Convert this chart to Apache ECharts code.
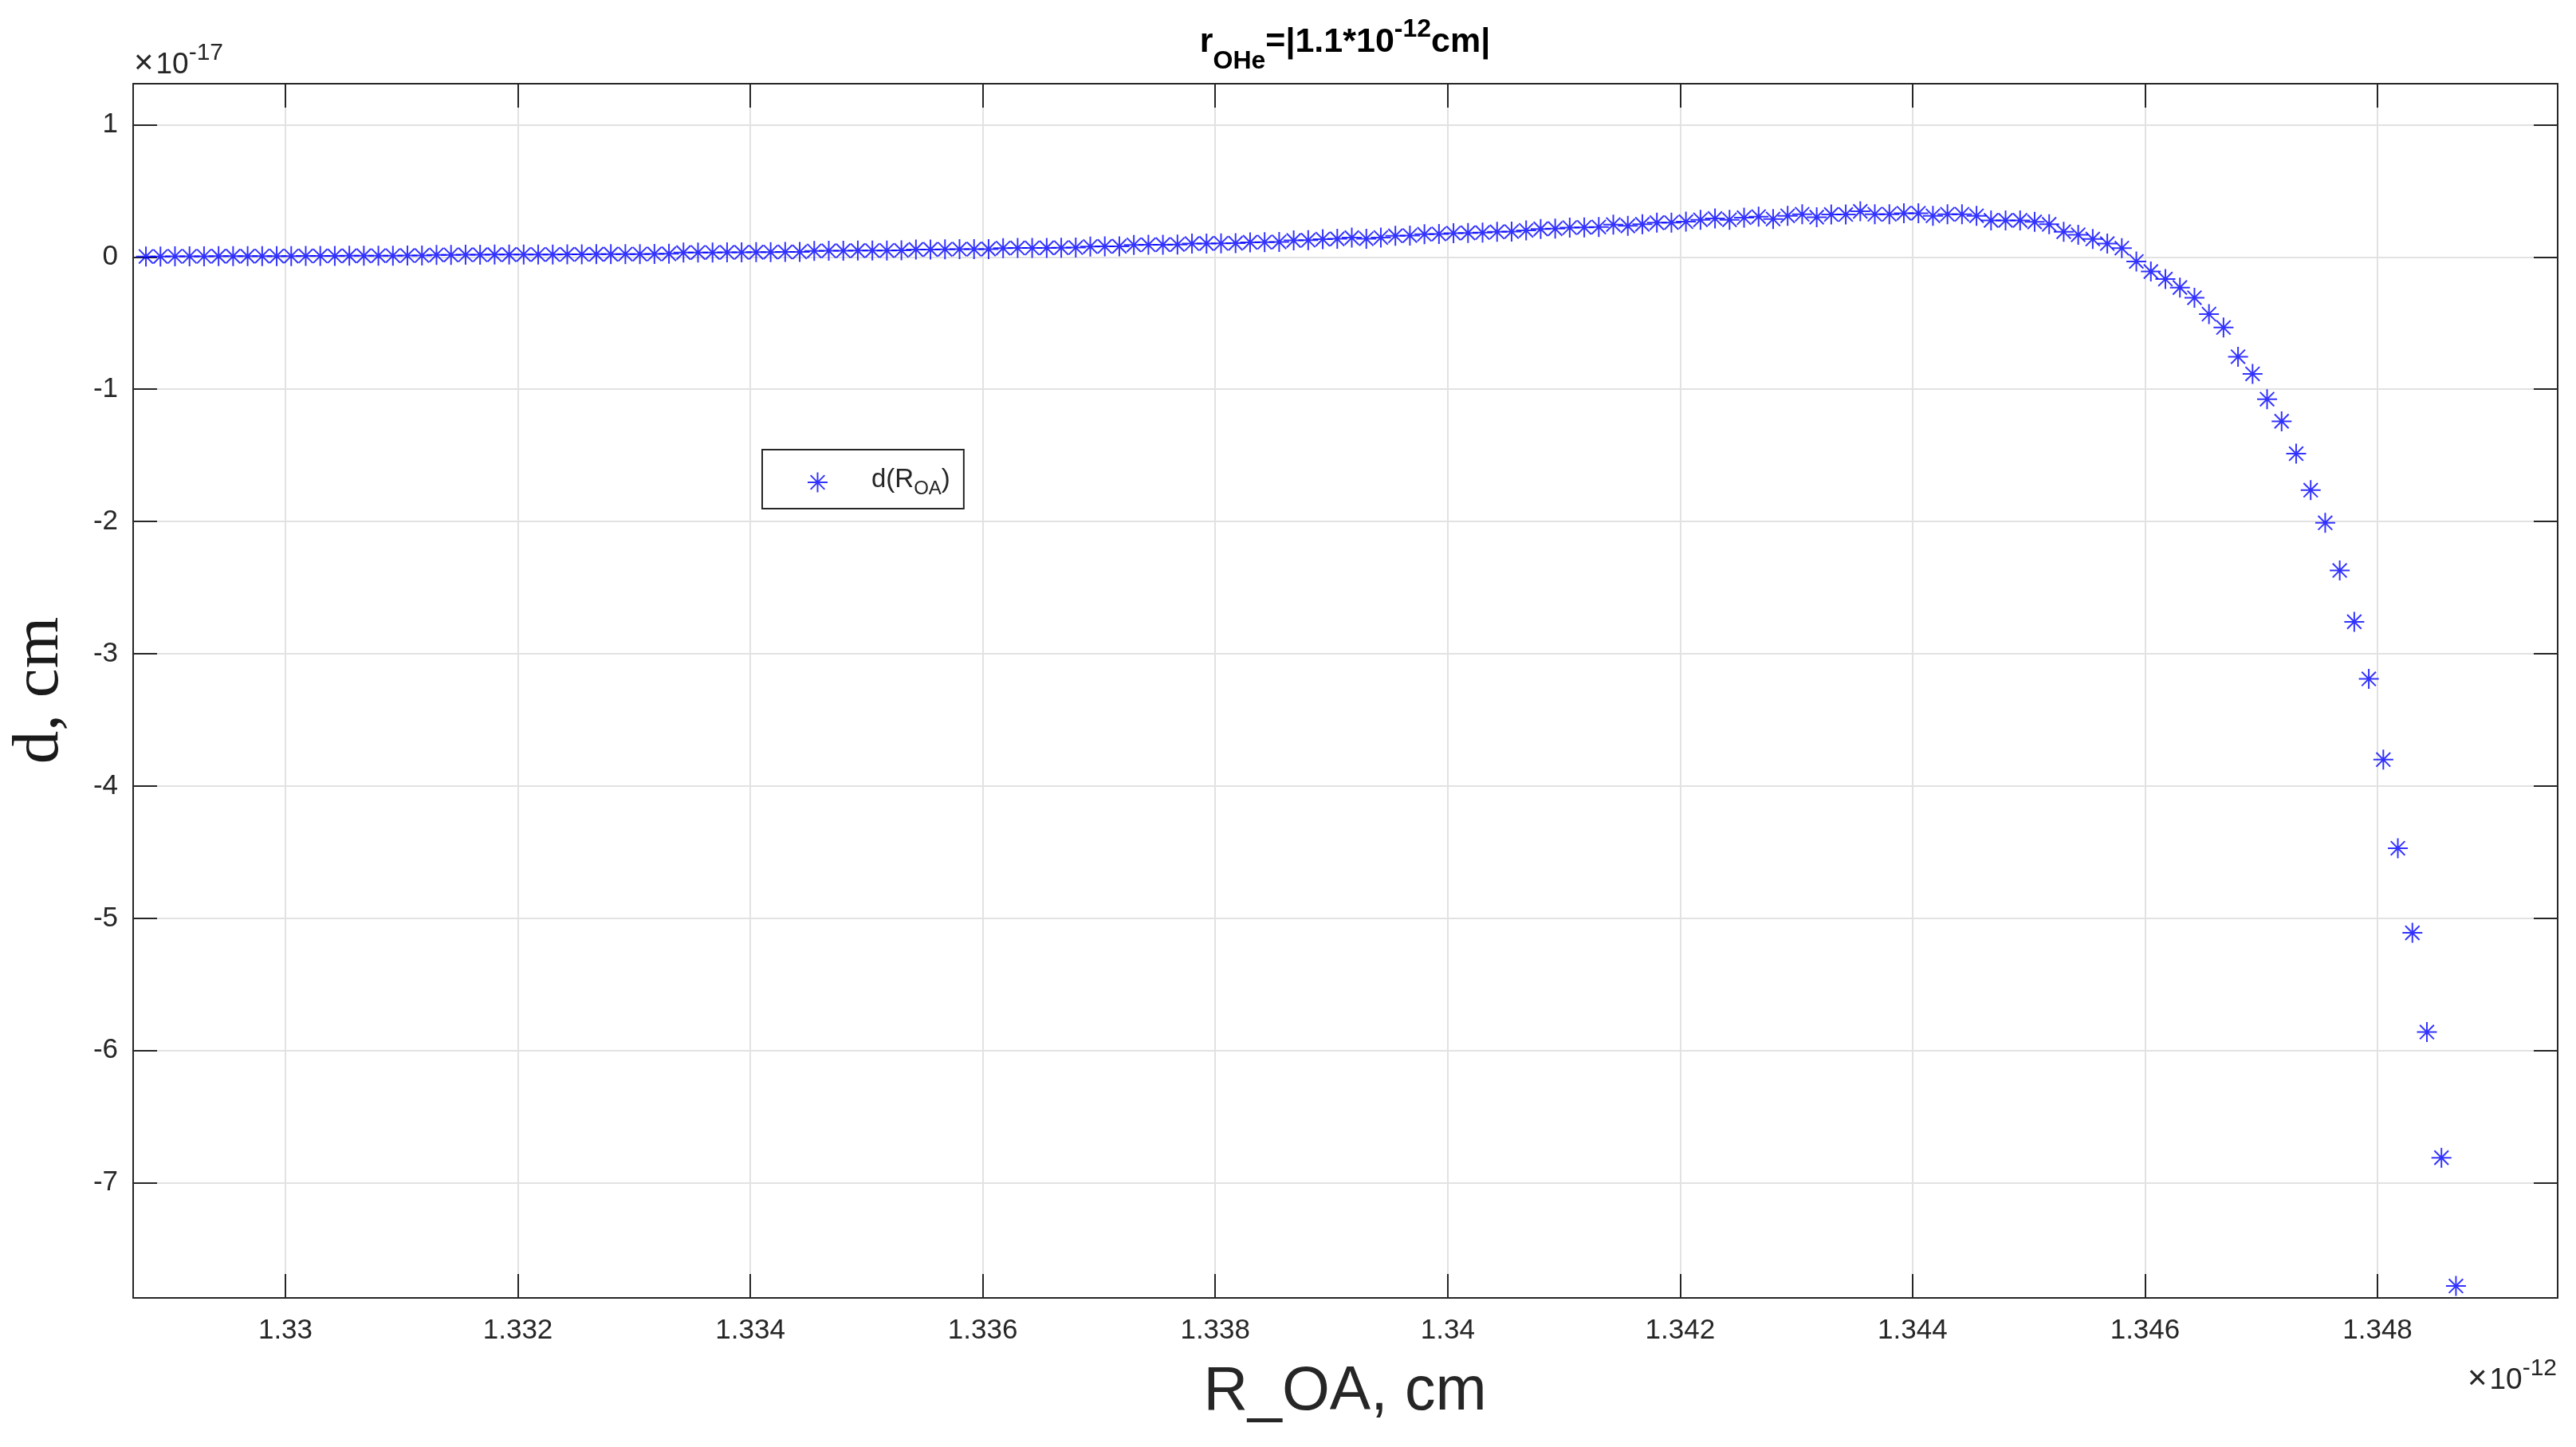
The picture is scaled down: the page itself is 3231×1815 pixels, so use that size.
<!DOCTYPE html>
<html>
<head>
<meta charset="utf-8">
<script src="https://cdn.jsdelivr.net/npm/echarts@6/dist/echarts.min.js"></script>
<style>
html,body{margin:0;padding:0;background:#ffffff;}
#chart{width:3231px;height:1815px;}
</style>
</head>
<body>
<div id="chart"></div>
<script>
// R_OA sample positions (units of 1e-12 cm)
const R_OA = [
  1.3288,1.328925,1.32905,1.329175,1.3293,1.329425,1.32955,1.329675,
  1.3298,1.329925,1.33005,1.330175,1.3303,1.330425,1.33055,1.330675,
  1.3308,1.330925,1.33105,1.331175,1.3313,1.331425,1.33155,1.331675,
  1.3318,1.331925,1.33205,1.332175,1.3323,1.332425,1.33255,1.332675,
  1.3328,1.332925,1.33305,1.333175,1.3333,1.333425,1.33355,1.333675,
  1.3338,1.333925,1.33405,1.334175,1.3343,1.334425,1.33455,1.334675,
  1.3348,1.334925,1.33505,1.335175,1.3353,1.335425,1.33555,1.335675,
  1.3358,1.335925,1.33605,1.336175,1.3363,1.336425,1.33655,1.336675,
  1.3368,1.336925,1.33705,1.337175,1.3373,1.337425,1.33755,1.337675,
  1.3378,1.337925,1.33805,1.338175,1.3383,1.338425,1.33855,1.338675,
  1.3388,1.338925,1.33905,1.339175,1.3393,1.339425,1.33955,1.339675,
  1.3398,1.339925,1.34005,1.340175,1.3403,1.340425,1.34055,1.340675,
  1.3408,1.340925,1.34105,1.341175,1.3413,1.341425,1.34155,1.341675,
  1.3418,1.341925,1.34205,1.342175,1.3423,1.342425,1.34255,1.342675,
  1.3428,1.342925,1.34305,1.343175,1.3433,1.343425,1.34355,1.343675,
  1.3438,1.343925,1.34405,1.344175,1.3443,1.344425,1.34455,1.344675,
  1.3448,1.344925,1.34505,1.345175,1.3453,1.345425,1.34555,1.345675,
  1.3458,1.345925,1.34605,1.346175,1.3463,1.346425,1.34655,1.346675,
  1.3468,1.346925,1.34705,1.347175,1.3473,1.347425,1.34755,1.347675,
  1.3478,1.347925,1.34805,1.348175,1.3483,1.348425,1.34855,1.348675
];
// d values (units of 1e-17 cm)
const D_VALUES = [
  0.004,0.004,0.005,0.005,0.005,0.006,0.006,0.006,0.007,0.007,
  0.007,0.008,0.008,0.008,0.009,0.009,0.010,0.010,0.011,0.011,
  0.016,0.016,0.017,0.017,0.018,0.018,0.019,0.019,0.019,0.020,
  0.020,0.021,0.021,0.022,0.022,0.023,0.024,0.033,0.034,0.034,
  0.035,0.035,0.036,0.037,0.038,0.038,0.046,0.047,0.047,0.048,
  0.049,0.049,0.050,0.057,0.057,0.058,0.059,0.059,0.060,0.067,
  0.068,0.068,0.069,0.070,0.071,0.079,0.080,0.081,0.091,0.092,
  0.093,0.094,0.101,0.102,0.103,0.104,0.111,0.112,0.114,0.125,
  0.127,0.135,0.137,0.146,0.138,0.147,0.160,0.162,0.172,0.174,
  0.180,0.182,0.184,0.190,0.192,0.201,0.212,0.214,0.222,0.224,
  0.227,0.245,0.235,0.247,0.259,0.260,0.267,0.281,0.291,0.281,
  0.297,0.305,0.287,0.311,0.323,0.301,0.321,0.321,0.345,0.323,
  0.323,0.331,0.331,0.311,0.323,0.323,0.311,0.277,0.277,0.277,
  0.265,0.247,0.191,0.168,0.136,0.101,0.067,-0.034,-0.110,-0.167,
  -0.231,-0.308,-0.432,-0.533,-0.754,-0.884,-1.075,-1.242,-1.487,-1.763,
  -2.010,-2.370,-2.758,-3.190,-3.800,-4.470,-5.110,-5.860,-6.810,-7.780
];
const SERIES_NAME = 'd(R_OA)';
const X_MIN = 1.32869, X_MAX = 1.34955;
const Y_MIN = -7.87, Y_MAX = 1.31;
const X_TICK_STEP = 0.002;
const Y_TICK_STEP = 1;

const AXIS_COLOR = '#262626';
const GRID_COLOR = '#e2e2e2';
const SANS = '"Liberation Sans", Arial, sans-serif';
const SERIF = '"Liberation Serif", "Times New Roman", serif';
const ASTERISK = 'path://M0,-10L0,10M-10,0L10,0M-7.07,-7.07L7.07,7.07M-7.07,7.07L7.07,-7.07';

function onStep(v, step) {
  const k = v / step;
  return Math.abs(k - Math.round(k)) < 1e-6;
}

const measureCtx = document.createElement('canvas').getContext('2d');
function textWidth(str, font) { measureCtx.font = font; return measureCtx.measureText(str).width; }
// place a line of text pieces on a common baseline (dy shifts for sub/superscripts)
function richLine(segs, x, baseline, align) {
  const fonts = segs.map(s => (s.weight || 'normal') + ' ' + s.size + 'px ' + (s.family || SANS));
  const widths = segs.map((s, i) => textWidth(s.text, fonts[i]) + (s.gap || 0));
  const total = widths.reduce((a, b) => a + b, 0);
  let cx = align === 'center' ? x - total / 2 : (align === 'right' ? x - total : x);
  return segs.map((s, i) => {
    const el = {
      type: 'text', silent: true,
      style: {
        text: s.text, x: cx, y: baseline + (s.dy || 0) - 0.3465 * s.size,
        font: fonts[i], fill: s.color || AXIS_COLOR,
        textAlign: 'left', textVerticalAlign: 'middle', verticalAlign: 'middle'
      }
    };
    cx += widths[i];
    return el;
  });
}

const points = R_OA.map((x, i) => [x, D_VALUES[i]]);

const graphics = [].concat(
  // title
  richLine([
    { text: 'r', size: 43, weight: 'bold', color: '#000' },
    { text: 'OHe', size: 32, weight: 'bold', dy: 20, color: '#000' },
    { text: '=|1.1*10', size: 43, weight: 'bold', color: '#000' },
    { text: '-12', size: 32, weight: 'bold', dy: -20, color: '#000' },
    { text: 'cm|', size: 43, weight: 'bold', color: '#000' }
  ], 1687, 68, 'center'),
  // y exponent
  richLine([
    { text: '\u00d7', size: 42, gap: 3 },
    { text: '10', size: 37 },
    { text: '-17', size: 30, dy: -18 }
  ], 168, 95, 'left'),
  // x exponent
  richLine([
    { text: '\u00d7', size: 42, gap: 3 },
    { text: '10', size: 37 },
    { text: '-12', size: 30, dy: -18 }
  ], 3207, 1745, 'right'),
  // x axis title
  richLine([{ text: 'R_OA, cm', size: 77 }], 1687, 1773, 'center'),
  [{
    type: 'text', silent: true, x: 50, y: 866, rotation: Math.PI / 2,
    style: {
      text: 'd, cm', x: 0, y: 0, font: 'normal 83px ' + SERIF, fill: '#1a1a1a',
      textAlign: 'center', textVerticalAlign: 'middle', verticalAlign: 'middle'
    }
  }]
);

const baseAxisLine = { show: true, onZero: false, lineStyle: { color: AXIS_COLOR, width: 2 } };
const baseTick = { show: true, inside: true, length: 30, lineStyle: { color: AXIS_COLOR, width: 2 } };

const option = {
  animation: false,
  backgroundColor: '#ffffff',
  grid: { left: 167, right: 23, top: 105, bottom: 187, containLabel: false },
  xAxis: [
    {
      type: 'value', position: 'bottom', min: X_MIN, max: X_MAX, splitNumber: 10,
      axisLine: baseAxisLine, axisTick: baseTick,
      axisLabel: {
        color: AXIS_COLOR, fontSize: 35, fontFamily: SANS, margin: 24,
        formatter: v => onStep(v, X_TICK_STEP) ? String(parseFloat(v.toFixed(3))) : ''
      },
      splitLine: { show: true, lineStyle: { color: GRID_COLOR, width: 2 } }
    },
    {
      type: 'value', position: 'top', min: X_MIN, max: X_MAX, splitNumber: 10,
      axisLine: baseAxisLine, axisTick: baseTick,
      axisLabel: { show: false }, splitLine: { show: false }
    }
  ],
  yAxis: [
    {
      type: 'value', position: 'left', min: Y_MIN, max: Y_MAX, splitNumber: 9,
      axisLine: baseAxisLine, axisTick: baseTick,
      axisLabel: {
        color: AXIS_COLOR, fontSize: 35, fontFamily: SANS, margin: 19,
        formatter: v => onStep(v, Y_TICK_STEP) ? String(Math.round(v)) : ''
      },
      splitLine: { show: true, lineStyle: { color: GRID_COLOR, width: 2 } }
    },
    {
      type: 'value', position: 'right', min: Y_MIN, max: Y_MAX, splitNumber: 9,
      axisLine: baseAxisLine, axisTick: baseTick,
      axisLabel: { show: false }, splitLine: { show: false }
    }
  ],
  legend: {
    data: [SERIES_NAME],
    left: 956, top: 564,
    orient: 'horizontal',
    padding: [13, 17, 13, 56],
    itemWidth: 25, itemHeight: 25,
    icon: ASTERISK,
    itemStyle: { color: '#0000ff', borderColor: '#0000ff', borderWidth: 2 },
    borderColor: AXIS_COLOR, borderWidth: 2, backgroundColor: '#ffffff',
    selectedMode: false,
    formatter: () => '{m|d(R}{s|OA}{m|)}',
    textStyle: {
      padding: [0, 0, 0, 50],
      rich: {
        m: { fontSize: 33, fontFamily: SANS, color: AXIS_COLOR, lineHeight: 40, verticalAlign: 'top' },
        s: { fontSize: 24, fontFamily: SANS, color: AXIS_COLOR, lineHeight: 24, verticalAlign: 'bottom', padding: [24, 0, 0, 0] }
      }
    }
  },
  series: [{
    name: SERIES_NAME,
    type: 'scatter',
    xAxisIndex: 0, yAxisIndex: 0,
    data: points,
    symbol: ASTERISK,
    symbolSize: 25,
    itemStyle: { color: '#0000ff', borderColor: '#0000ff', borderWidth: 2 },
    emphasis: { disabled: true },
    clip: false,
    z: 5
  }],
  graphic: graphics
};

const chart = echarts.init(document.getElementById('chart'), null, { renderer: 'canvas' });
chart.setOption(option);
</script>
</body>
</html>
